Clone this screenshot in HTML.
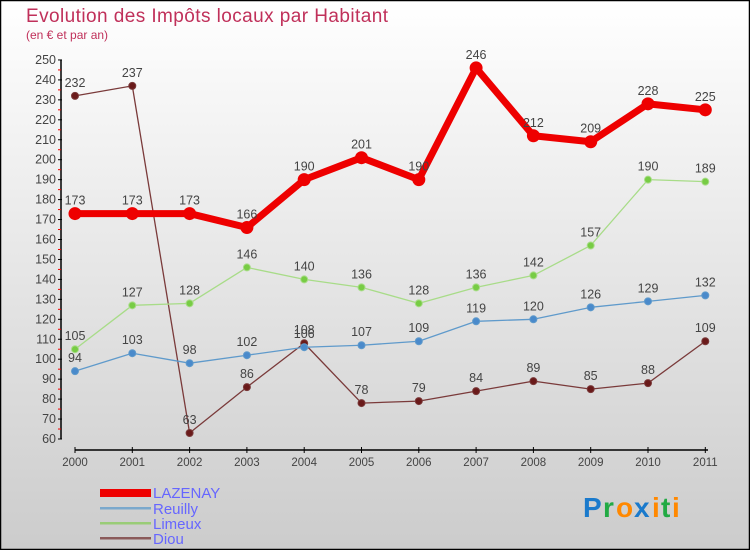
<!DOCTYPE html>
<html><head><meta charset="utf-8"><style>
html,body{margin:0;padding:0}
body{width:750px;height:550px;overflow:hidden;font-family:"Liberation Sans",sans-serif}
</style></head><body>
<svg id="chart" width="750" height="550" xmlns="http://www.w3.org/2000/svg" font-family="Liberation Sans,sans-serif">
<defs><linearGradient id="bg" x1="0" y1="0" x2="0" y2="1"><stop offset="0" stop-color="#ffffff"/><stop offset="1" stop-color="#cccccc"/></linearGradient></defs>
<rect x="0.5" y="0.5" width="749" height="549" fill="url(#bg)" stroke="#000" stroke-width="1.5"/>
<text x="26" y="22" font-size="19" fill="#c0305a" textLength="362">Evolution des Impôts locaux par Habitant</text>
<text x="26" y="39" font-size="12" fill="#c0305a">(en € et par an)</text>
<g id="axes"></g><g id="series"></g>
<g font-size="15" fill="#6666ff">
<rect x="100" y="489" width="51" height="8" fill="#ee0000"/>
<text x="153" y="498">LAZENAY</text>
<rect x="100" y="507" width="51" height="2.5" fill="#7aa8cc"/>
<text x="153" y="514">Reuilly</text>
<rect x="100" y="522" width="51" height="2.5" fill="#99cc77"/>
<text x="153" y="529">Limeux</text>
<rect x="100" y="537" width="51" height="2.5" fill="#8a5a5a"/>
<text x="153" y="544">Diou</text>
</g>
<g font-size="28" font-weight="bold">
<text x="583" y="517" fill="#1a7acc">P</text><text x="603" y="517" fill="#22aa44">r</text><text x="616" y="517" fill="#ff8800">o</text><text x="634" y="517" fill="#1a7acc">x</text><text x="652" y="517" fill="#ff8800">i</text><text x="661" y="517" fill="#22aa44">t</text><text x="672" y="517" fill="#ff8800">i</text>
</g>
</svg>
<script>
const years=[2000,2001,2002,2003,2004,2005,2006,2007,2008,2009,2010,2011];
const lazenay=[173,173,173,166,190,201,190,246,212,209,228,225];
const reuilly=[94,103,98,102,106,107,109,119,120,126,129,132];
const limeux=[105,127,128,146,140,136,128,136,142,157,190,189];
const diou=[232,237,63,86,108,78,79,84,89,85,88,109];
const yTicks=[60,70,80,90,100,110,120,130,140,150,160,170,180,190,200,210,220,230,240,250];
const NS='http://www.w3.org/2000/svg';
const x=i=>75+i*57.3;
const y=v=>439-(v-60)*1.995;
function mk(t,a,p){const e=document.createElementNS(NS,t);for(const k in a)e.setAttribute(k,a[k]);p.appendChild(e);return e;}
const ax=document.getElementById('axes');
mk('line',{x1:61,y1:y(250),x2:61,y2:y(60),stroke:'#000','stroke-width':1.5},ax);
yTicks.forEach(v=>{
 mk('line',{x1:58,y1:y(v),x2:62,y2:y(v),stroke:'#000'},ax);
 if(v<250)mk('line',{x1:58,y1:y(v+5),x2:61,y2:y(v+5),stroke:'#e00'},ax);
 const t=mk('text',{x:56,y:y(v)+4,'text-anchor':'end','font-size':12.5,fill:'#444'},ax);
 
 
 t.textContent=v;
});
mk('line',{x1:75,y1:450,x2:708,y2:450,stroke:'#000','stroke-width':1.5},ax);
years.forEach((yr,i)=>{
 mk('line',{x1:x(i),y1:447,x2:x(i),y2:453,stroke:'#000'},ax);
 const t=mk('text',{x:x(i),y:466,'text-anchor':'middle','font-size':11.5,fill:'#444'},ax);
 
 
 t.textContent=yr;
});
const sg=document.getElementById('series');
function series(name,data,color,w,r,dot){
 const g=mk('g',{},sg);
 
 
 mk('polyline',{points:data.map((v,i)=>x(i)+','+y(v)).join(' '),fill:'none',stroke:color,'stroke-width':w,'stroke-linejoin':'round'},g);
 data.forEach((v,i)=>{
  const c=mk('circle',{cx:x(i),cy:y(v),r:r,fill:dot,stroke:color,'stroke-width':1},g);
  
  
  const t=mk('text',{x:x(i),y:y(v)-9,'text-anchor':'middle','font-size':12.5,fill:'#444'},g);
  
  
  t.textContent=v;
 });
}
series('diou',diou,'#7a3a3a',1.3,3.5,'#6a1a1a');
series('reuilly',reuilly,'#5f9acb',1.3,3.5,'#4a8acb');
series('limeux',limeux,'#a8dc88',1.3,3.5,'#77cc44');
series('lazenay',lazenay,'#ee0000',7,6,'#ee0000');
</script>
</body></html>
